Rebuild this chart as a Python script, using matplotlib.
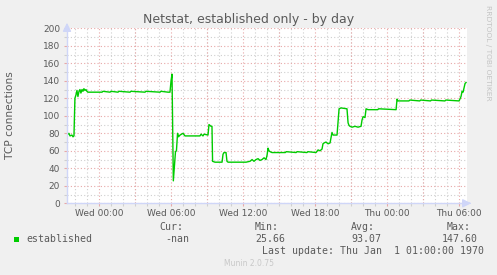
import matplotlib
matplotlib.use("Agg")
import matplotlib.pyplot as plt
from matplotlib.ticker import MultipleLocator, FixedLocator

# ---- data (hours relative to Wed 00:00) ----
hours = [-2.69, -2.53, -2.44, -2.28, -2.19, -2.11, -2.03, -1.94, -1.86, -1.78,
         -1.69, -1.61, -1.53, -1.44, -1.36, -1.28, -1.19, -1.11, -1.03, -0.94,
         0.23, 0.31, 0.89, 0.98, 1.56, 1.64, 2.56, 2.64, 3.81, 3.89, 5.06, 5.14,
         5.73, 5.81, 5.89, 5.98, 6.06, 6.17, 6.27, 6.35, 6.43, 6.52, 6.60, 6.73,
         6.98, 7.14, 8.39, 8.48, 8.64, 8.73, 9.06, 9.14, 9.31, 9.39, 9.44, 9.64,
         10.23, 10.31, 10.39, 10.56, 10.64, 10.73, 12.23, 12.56, 12.73, 12.89,
         13.06, 13.23, 13.39, 13.56, 13.73, 13.89, 13.98, 14.06, 14.14, 14.23,
         14.39, 15.50, 15.58, 16.40, 16.48, 17.30, 17.38, 18.06, 18.23, 18.39,
         18.56, 18.64, 18.73, 18.89, 19.06, 19.23, 19.39, 19.48, 19.81, 19.98,
         20.14, 20.64, 20.73, 20.81, 20.89, 21.06, 21.31, 21.56, 21.81, 21.89,
         21.98, 22.14, 22.23, 22.39, 23.20, 23.28, 24.73, 24.81, 24.89, 25.80,
         25.88, 26.70, 26.78, 27.60, 27.68, 28.80, 28.88, 29.98, 30.14, 30.23,
         30.31, 30.48, 30.56]
established = [78, 80, 77, 78, 76, 77, 120, 124, 129, 122,
               128, 130, 126, 130, 128, 131, 129, 130, 128, 127,
               127, 128, 127, 128, 127, 128, 127, 128, 127, 128, 127, 128,
               127, 127, 127, 140, 147.6, 25.66, 45, 59, 60, 80, 76, 78,
               80, 77, 77, 79, 77, 79, 78, 90, 88, 88, 48, 47,
               47, 56, 58, 58, 48, 47, 47, 48, 50, 48,
               50, 51, 49, 50, 52, 50, 55, 63, 60, 59,
               58, 58, 59, 58, 59, 58, 59, 58, 61, 60,
               62, 68, 69, 70, 68, 69, 81, 78, 78, 108,
               109, 108, 92, 89, 88, 87, 88, 87, 88, 95,
               99, 98, 108, 107, 107, 108, 107, 119, 117, 117,
               118, 117, 118, 117, 118, 117, 118, 117, 122, 128,
               127, 137, 138]

xtick_pos = [0, 6, 12, 18, 24, 30]
xtick_labels = ["Wed 00:00", "Wed 06:00", "Wed 12:00", "Wed 18:00",
                "Thu 00:00", "Thu 06:00"]
yticks = [0, 20, 40, 60, 80, 100, 120, 140, 160, 180, 200]

x_start, x_end = -2.69, 30.64

W, H = 497, 275
BG = "#f0f0f0"
FONT = "#5a5a5a"
AXIS = "#cfd6f8"
MINOR = "#cfcfcf"
MAJOR = "#e8a8a8"
GREEN = "#00cc00"

fig = plt.figure(figsize=(W / 100, H / 100), dpi=100, facecolor=BG)

def px(x, y):
    return x / W, 1 - y / H

left, top, right, bottom = 67, 28.3, 467, 203.3
ax = fig.add_axes([left / W, 1 - bottom / H, (right - left) / W, (bottom - top) / H])
ax.set_facecolor("white")
ax.set_xlim(x_start, x_end)
ax.set_ylim(0, 200)

# grid
ax.xaxis.set_minor_locator(MultipleLocator(1))
ax.yaxis.set_minor_locator(MultipleLocator(10))
ax.xaxis.set_major_locator(FixedLocator(xtick_pos))
ax.set_xticklabels(xtick_labels)
ax.set_yticks(yticks)
ax.grid(which="minor", color=MINOR, linestyle=(0, (1, 2)), linewidth=0.8)
for h in range(-3, 32):
    if h % 3 == 0:
        ax.axvline(h, color=MAJOR, linestyle=(0, (1, 2)), linewidth=0.8, zorder=1)
for v in yticks:
    ax.axhline(v, color=MAJOR, linestyle=(0, (1, 2)), linewidth=0.8, zorder=1)
ax.set_axisbelow(True)

ax.plot(hours, established, color=GREEN, linewidth=1.0, zorder=3)

for s in ["top", "right"]:
    ax.spines[s].set_visible(False)
for s in ["left", "bottom"]:
    ax.spines[s].set_color(AXIS)
    ax.spines[s].set_linewidth(1.0)
    ax.spines[s].set_zorder(4)

ax.tick_params(axis="both", which="major", labelsize=6.5, labelcolor=FONT,
               color=MAJOR, length=2, width=0.8)
ax.tick_params(axis="y", which="major", pad=3)
ax.tick_params(axis="x", which="major", pad=2.2)
ax.tick_params(axis="both", which="minor", color=MINOR, length=2, width=0.8)
for lab in ax.get_xticklabels() + ax.get_yticklabels():
    lab.set_fontfamily("DejaVu Sans")

# arrows on axes
ax.annotate("", xy=px(67, 20), xycoords="figure fraction",
            xytext=px(67, 29), textcoords="figure fraction",
            arrowprops=dict(arrowstyle="-|>,head_width=0.25,head_length=0.5",
                            color=AXIS, lw=1.0))
ax.annotate("", xy=px(474, 203.3), xycoords="figure fraction",
            xytext=px(466, 203.3), textcoords="figure fraction",
            arrowprops=dict(arrowstyle="-|>,head_width=0.25,head_length=0.5",
                            color=AXIS, lw=1.0))

# title & labels
fig.text(*px(248.5, 19), "Netstat, established only - by day", ha="center",
         va="center", fontsize=9, color=FONT, family="DejaVu Sans")
fig.text(*px(10, 115.5), "TCP connections", rotation=90, ha="center",
         va="center", fontsize=7.7, color=FONT, family="DejaVu Sans")
fig.text(*px(488, 53), "RRDTOOL / TOBI OETIKER", rotation=270, ha="center",
         va="center", fontsize=5.4, color="#c4c4c4", family="DejaVu Sans")

# legend
mono = dict(family="DejaVu Sans Mono", fontsize=7.1, color=FONT, va="center", ha="left")
fig.patches.append(plt.Rectangle(px(14, 242), 5 / W, 5 / H, transform=fig.transFigure,
                                 facecolor=GREEN, edgecolor="none"))
fig.text(*px(26, 239.5), "established", **mono)
fig.text(*px(159.3, 227), "Cur:", **mono)
fig.text(*px(165, 239.5), "-nan", **mono)
fig.text(*px(255, 227), "Min:", **mono)
fig.text(*px(255, 239.5), "25.66", **mono)
fig.text(*px(351, 227), "Avg:", **mono)
fig.text(*px(351, 239.5), "93.07", **mono)
fig.text(*px(446.7, 227), "Max:", **mono)
fig.text(*px(441.7, 239.5), "147.60", **mono)
fig.text(*px(261.7, 251.5), "Last update: Thu Jan  1 01:00:00 1970", **mono)
fig.text(*px(249, 264), "Munin 2.0.75", ha="center", va="center", fontsize=5.5,
         color="#c8c8c8", family="DejaVu Sans")

fig.savefig("out.png", dpi=100, facecolor=BG)
